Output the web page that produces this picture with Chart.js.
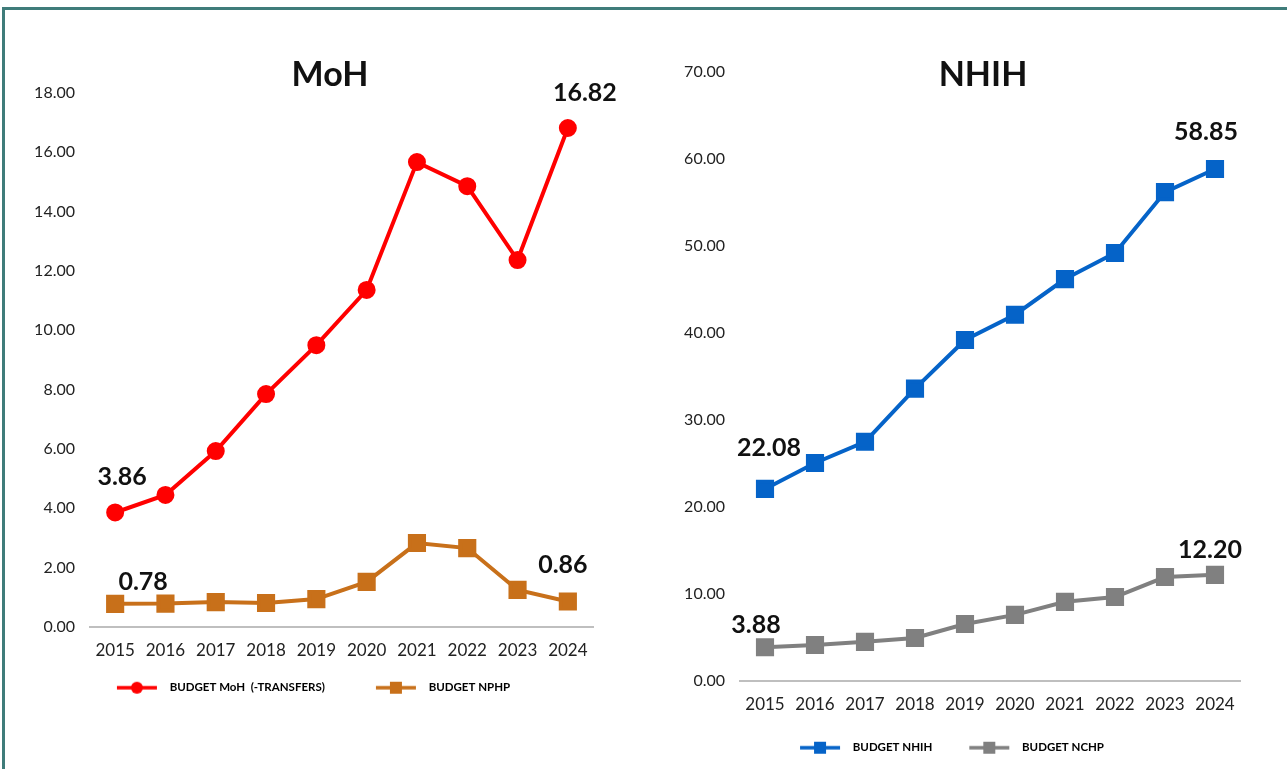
<!DOCTYPE html>
<html>
<head>
<meta charset="utf-8">
<script src="https://cdn.jsdelivr.net/npm/chart.js@4"></script>
<style>
  body { margin: 0; background: #fff; width: 1287px; height: 769px; overflow: hidden; position: relative; font-family: Lato, sans-serif; }
  #frame { position: absolute; left: 2px; top: 7px; width: 1400px; height: 800px; border-top: 3px solid #3f7c7a; border-left: 3px solid #3f7c7a; }
  .title { position: absolute; font-weight: bold; font-size: 34px; color: #111; transform: translate(-50%, -50%); white-space: nowrap; }
  #left { position: absolute; left: 0; top: 0; }
  #right { position: absolute; left: 650px; top: 0; }
</style>
</head>
<body>
<div id="frame"></div>
<canvas id="left" width="640" height="713"></canvas>
<canvas id="right" width="637" height="769"></canvas>
<div class="title" style="left:330px; top:72px;">MoH</div>
<div class="title" style="left:983px; top:72px;">NHIH</div>
<script>
const years = ['2015', '2016', '2017', '2018', '2019', '2020', '2021', '2022', '2023', '2024'];

// MoH chart
const budgetMoH = [3.86, 4.45, 5.93, 7.85, 9.50, 11.36, 15.67, 14.86, 12.37, 16.82];
const budgetNPHP = [0.78, 0.79, 0.84, 0.81, 0.94, 1.52, 2.83, 2.66, 1.25, 0.86];
const mohTicks = [0, 2, 4, 6, 8, 10, 12, 14, 16, 18];

// NHIH chart
const budgetNHIH = [22.08, 25.06, 27.50, 33.60, 39.20, 42.10, 46.20, 49.20, 56.20, 58.85];
const budgetNCHP = [3.88, 4.14, 4.50, 4.94, 6.55, 7.60, 9.10, 9.65, 11.95, 12.20];
const nhihTicks = [0, 10, 20, 30, 40, 50, 60, 70];

const FONT = 'Lato, sans-serif';

// legend swatch: blank margin, line with marker in the middle, gap before text
function legendIcon(color, style, margin) {
    const lineLen = 42, gap = 6;
    const c = document.createElement('canvas');
    c.width = margin + lineLen + gap; c.height = 16;
    const g = c.getContext('2d');
    g.strokeStyle = color;
    g.lineWidth = 3.5;
    g.beginPath(); g.moveTo(margin + 1, 8); g.lineTo(margin + lineLen - 1, 8); g.stroke();
    g.fillStyle = color;
    const mid = margin + lineLen / 2;
    if (style === 'circle') {
        g.beginPath(); g.arc(mid, 8, 6, 0, Math.PI * 2); g.fill();
    } else {
        g.fillRect(mid - 6, 2, 12, 12);
    }
    return c;
}

// draws the bold value labels at first / last points
const valueLabels = {
    id: 'valueLabels',
    afterDatasetsDraw(chart) {
        const ctx = chart.ctx;
        ctx.save();
        ctx.font = 'bold 25px ' + FONT;
        ctx.fillStyle = '#111';
        ctx.textAlign = 'center';
        ctx.textBaseline = 'middle';
        chart.data.datasets.forEach((ds, di) => {
            const meta = chart.getDatasetMeta(di);
            (ds.valueLabels || []).forEach(l => {
                const p = meta.data[l.i];
                ctx.fillText(ds.data[l.i].toFixed(2), p.x + l.dx, p.y + l.dy);
            });
        });
        ctx.restore();
    }
};

function makeChart(id, datasets, ticks, max, topPad, bottomPad, iconW, legendPad) {
    return new Chart(document.getElementById(id), {
        type: 'line',
        data: { labels: years, datasets: datasets },
        options: {
            responsive: false,
            animation: false,
            layout: { padding: { top: topPad, right: 47, left: 0, bottom: bottomPad } },
            scales: {
                x: {
                    offset: true,
                    grid: { display: false, drawTicks: false },
                    border: { display: true, color: '#bfbfbf', width: 2 },
                    ticks: { color: '#222', font: { family: FONT, size: 17 }, padding: 13, maxRotation: 0 },
                    afterFit(s) { s.height = 38; }
                },
                y: {
                    min: 0, max: max,
                    grid: { display: false, drawTicks: false },
                    border: { display: false },
                    afterBuildTicks(s) { s.ticks = ticks.map(v => ({ value: v })); },
                    ticks: {
                        color: '#222',
                        font: { family: FONT, size: 16 },
                        padding: 15,
                        callback: v => Number(v).toFixed(2)
                    },
                    afterFit(s) { s.width = 90; }
                }
            },
            plugins: {
                tooltip: { enabled: false },
                legend: {
                    position: 'bottom',
                    labels: {
                        usePointStyle: true,
                        pointStyleWidth: iconW,
                        padding: legendPad,
                        color: '#404040',
                        font: { family: FONT, size: 11.5, weight: 'bold' },
                        generateLabels(chart) {
                            return chart.data.datasets.map((ds, i) => ({
                                text: ds.label,
                                pointStyle: ds.legendIcon,
                                fillStyle: ds.borderColor,
                                strokeStyle: ds.borderColor,
                                lineWidth: 0,
                                datasetIndex: i,
                                hidden: false
                            }));
                        }
                    }
                }
            }
        },
        plugins: [valueLabels]
    });
}

makeChart('left', [
    {
        label: 'BUDGET MoH  (-TRANSFERS)',
        data: budgetMoH,
        borderColor: '#ff0000', backgroundColor: '#ff0000',
        borderWidth: 4, pointStyle: 'circle', pointRadius: 7,
        legendIcon: legendIcon('#ff0000', 'circle', 33),
        valueLabels: [{ i: 0, dx: 7, dy: -36 }, { i: 9, dx: 17, dy: -35 }]
    },
    {
        label: 'BUDGET NPHP',
        data: budgetNPHP,
        borderColor: '#c8701a', backgroundColor: '#c8701a',
        borderWidth: 4, pointStyle: 'rect', pointRadius: 10,
        legendIcon: legendIcon('#c8701a', 'rect', 33),
        valueLabels: [{ i: 0, dx: 28, dy: -22 }, { i: 9, dx: -5, dy: -37 }]
    }
], mohTicks, 18, 93, 9.5, 81, 17);

makeChart('right', [
    {
        label: 'BUDGET NHIH',
        data: budgetNHIH,
        borderColor: '#0563c8', backgroundColor: '#0563c8',
        borderWidth: 4, pointStyle: 'rect', pointRadius: 10,
        legendIcon: legendIcon('#0563c8', 'rect', 13),
        valueLabels: [{ i: 0, dx: 4, dy: -41 }, { i: 9, dx: -9, dy: -37 }]
    },
    {
        label: 'BUDGET NCHP',
        data: budgetNCHP,
        borderColor: '#808080', backgroundColor: '#808080',
        borderWidth: 4, pointStyle: 'rect', pointRadius: 10,
        legendIcon: legendIcon('#808080', 'rect', 13),
        valueLabels: [{ i: 0, dx: -9, dy: -22 }, { i: 9, dx: -5, dy: -25 }]
    }
], nhihTicks, 70, 72, 5.5, 61, 23);
</script>
</body>
</html>
